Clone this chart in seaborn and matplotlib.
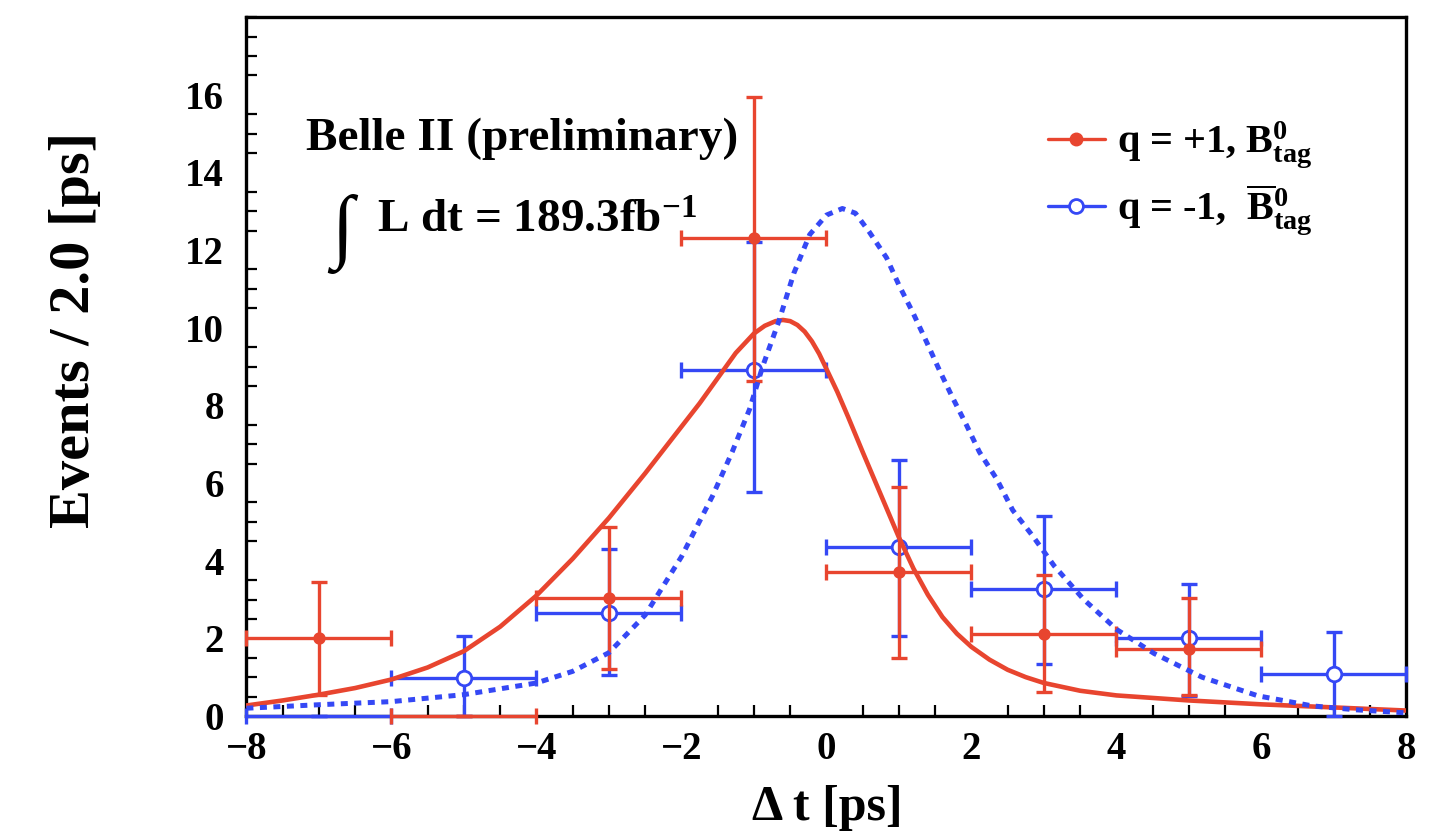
import numpy as np
import pandas as pd
import matplotlib
matplotlib.use("Agg")
import matplotlib.pyplot as plt
import seaborn as sns
from matplotlib.lines import Line2D
from matplotlib.ticker import MultipleLocator

# ---------------- data ----------------
bin_half_width = 1.0

red_x = [-7, -5, -3, -1, 1, 3, 5]
red_y = [2.02, 0.0, 3.04, 12.30, 3.70, 2.10, 1.72]
red_lo = [0.55, 0.0, 1.22, 8.64, 1.50, 0.61, 0.55]
red_hi = [3.44, 0.0, 4.87, 15.95, 5.90, 3.63, 3.03]

blue_x = [-7, -5, -3, -1, 1, 3, 5, 7]
blue_y = [0.0, 0.98, 2.65, 8.92, 4.35, 3.26, 2.00, 1.08]
blue_lo = [0.0, 0.0, 1.05, 5.77, 2.06, 1.35, 0.52, 0.0]
blue_hi = [0.0, 2.06, 4.30, 12.20, 6.60, 5.16, 3.39, 2.17]

red_curve_x = [-8, -7.5, -7, -6.5, -6, -5.5, -5, -4.5, -4, -3.5, -3, -2.5, -2, -1.75,
               -1.5, -1.25, -1.0, -0.85, -0.7, -0.6, -0.5, -0.4, -0.3, -0.2, -0.1, 0,
               0.15, 0.3, 0.5, 0.75, 1.0, 1.2, 1.4, 1.6, 1.8, 2.0, 2.25, 2.5, 2.75,
               3.0, 3.5, 4.0, 5.0, 6.0, 7.0, 8.0]
red_curve_y = [0.27, 0.40, 0.55, 0.72, 0.94, 1.25, 1.67, 2.30, 3.10, 4.05, 5.10, 6.25,
               7.45, 8.05, 8.70, 9.35, 9.85, 10.05, 10.17, 10.20, 10.17, 10.07, 9.90,
               9.65, 9.33, 8.94, 8.35, 7.70, 6.80, 5.70, 4.60, 3.80, 3.12, 2.55, 2.12,
               1.78, 1.45, 1.19, 1.00, 0.85, 0.65, 0.53, 0.40, 0.30, 0.22, 0.14]

blue_curve_x = [-8, -7, -6, -5, -4, -3.5, -3, -2.5, -2.3, -2.0, -1.57, -1.3, -1.06,
                -0.88, -0.65, -0.45, -0.23, 0.0, 0.22, 0.4, 0.59, 0.83, 1.0, 1.19,
                1.38, 1.56, 1.74, 1.93, 2.11, 2.35, 2.57, 2.84, 3.14, 3.55, 4.01,
                4.52, 5.18, 5.95, 6.7, 7.3, 8.0]
blue_curve_y = [0.20, 0.29, 0.37, 0.55, 0.85, 1.15, 1.63, 2.60, 3.20, 4.10, 5.67,
                6.80, 7.90, 9.00, 10.20, 11.40, 12.40, 12.90, 13.07, 12.95, 12.47,
                11.80, 11.10, 10.40, 9.64, 8.90, 8.20, 7.50, 6.80, 6.10, 5.30, 4.65,
                3.87, 3.00, 2.22, 1.61, 1.00, 0.52, 0.26, 0.16, 0.08]

x_ticks = [-8, -6, -4, -2, 0, 2, 4, 6, 8]
y_ticks = [0, 2, 4, 6, 8, 10, 12, 14, 16]

label_red = r"q = +1, $\mathbf{B^{0}_{tag}}$"
label_blue = r"q = -1,  $\mathbf{\overline{B}^{0}_{tag}}$"

# ---------------- style ----------------
RED = "#E8452F"
BLUE = "#3548F5"

sns.set_theme(style="white")
plt.rcParams["font.family"] = ["Liberation Serif", "DejaVu Serif"]
plt.rcParams["font.weight"] = "bold"
plt.rcParams["text.color"] = "black"
plt.rcParams["xtick.color"] = "black"
plt.rcParams["ytick.color"] = "black"
plt.rcParams["mathtext.fontset"] = "custom"
plt.rcParams["mathtext.rm"] = "Liberation Serif:bold"
plt.rcParams["mathtext.bf"] = "Liberation Serif:bold"
plt.rcParams["mathtext.it"] = "Liberation Serif:bold"

fig = plt.figure(figsize=(14.41, 8.34), dpi=100)
ax = fig.add_axes([0.171, 0.1415, 0.805, 0.838])

red_df = pd.DataFrame({"x": red_x, "y": red_y, "lo": red_lo, "hi": red_hi})
blue_df = pd.DataFrame({"x": blue_x, "y": blue_y, "lo": blue_lo, "hi": blue_hi})

def set_noclip(container):
    for art in container.get_children():
        art.set_clip_on(False)

# blue error bars + markers
eb_b = ax.errorbar(blue_df["x"], blue_df["y"], xerr=bin_half_width,
                   yerr=[blue_df["y"] - blue_df["lo"], blue_df["hi"] - blue_df["y"]],
                   fmt="none", ecolor=BLUE, elinewidth=2.4, capsize=6, capthick=2.4,
                   zorder=2.6)
set_noclip(eb_b)
sns.scatterplot(data=blue_df[blue_df["y"] > 0], x="x", y="y", ax=ax, marker="o",
                s=110, facecolor="white", edgecolor=BLUE, linewidth=2.0, zorder=3,
                legend=False)

# red error bars + markers
eb_r = ax.errorbar(red_df["x"], red_df["y"], xerr=bin_half_width,
                   yerr=[red_df["y"] - red_df["lo"], red_df["hi"] - red_df["y"]],
                   fmt="none", ecolor=RED, elinewidth=2.4, capsize=6, capthick=2.4,
                   zorder=4)
set_noclip(eb_r)
sns.scatterplot(data=red_df[red_df["y"] > 0], x="x", y="y", ax=ax, marker="o",
                s=80, color=RED, edgecolor=RED, linewidth=0, zorder=5, legend=False)

# fit curves
sns.lineplot(x=red_curve_x, y=red_curve_y, ax=ax, color=RED, lw=3.3,
             sort=False, estimator=None, zorder=6)
sns.lineplot(x=blue_curve_x, y=blue_curve_y, ax=ax, color=BLUE, lw=3.6,
             sort=False, estimator=None, zorder=6)
ax.lines[-1].set_linestyle((0, (1.4, 1.3)))

# axes
ax.set_xlim(-8, 8)
ax.set_ylim(0, 18)
ax.set_xticks(x_ticks)
ax.set_yticks(y_ticks)
ax.set_xticklabels(["\u2212" + str(-t) if t < 0 else str(t) for t in x_ticks])
ax.xaxis.set_minor_locator(MultipleLocator(0.5))
ax.yaxis.set_minor_locator(MultipleLocator(0.5))
ax.tick_params(axis="both", which="major", direction="in", length=15, width=2,
               labelsize=28, color="black", labelcolor="black", top=False, right=False)
ax.tick_params(axis="both", which="minor", direction="in", length=8, width=1.6,
               color="black", top=False, right=False, bottom=True, left=True)
ax.tick_params(axis="y", which="major", pad=16)
ax.tick_params(axis="x", which="major", pad=11)
for lab in ax.get_xticklabels() + ax.get_yticklabels():
    lab.set_fontweight("bold")
for sp in ax.spines.values():
    sp.set_linewidth(2.4)
    sp.set_color("black")
ax.set_xlabel("")
ax.set_ylabel("")
ax.grid(False)

fig.text(0.052, 0.604, "Events / 2.0 [ps]", rotation=90, ha="center", va="center",
         fontsize=42, fontweight="bold")
fig.text(0.574, 0.004, "\u0394 t [ps]", ha="center", va="bottom", fontsize=36,
         fontweight="bold")

# annotations
ax.text(0.051, 0.81, "Belle II (preliminary)", transform=ax.transAxes,
        fontsize=34, fontweight="bold", va="baseline", ha="left")
ax.text(0.083, 0.69, "\u222b", transform=ax.transAxes, fontsize=58,
        fontweight="bold", va="center", ha="center")
ax.text(0.113, 0.691, r"L dt = 189.3fb$^{\mathbf{-1}}$", transform=ax.transAxes,
        fontsize=34, fontweight="bold", va="baseline", ha="left")

# legend
handles = [
    Line2D([0], [0], color=RED, lw=2.4, marker="o", markersize=9,
           markerfacecolor=RED, markeredgecolor=RED),
    Line2D([0], [0], color=BLUE, lw=2.4, marker="o", markersize=10,
           markerfacecolor="white", markeredgecolor=BLUE, markeredgewidth=2),
]
leg = ax.legend(handles, [label_red, label_blue], loc="upper left",
                bbox_to_anchor=(0.66, 0.905), frameon=False, fontsize=29,
                handlelength=1.4, handletextpad=0.3, labelspacing=0.3)
for t in leg.get_texts():
    t.set_fontweight("bold")
    t.set_color("black")

fig.savefig("out.png", dpi=100, facecolor="white")
